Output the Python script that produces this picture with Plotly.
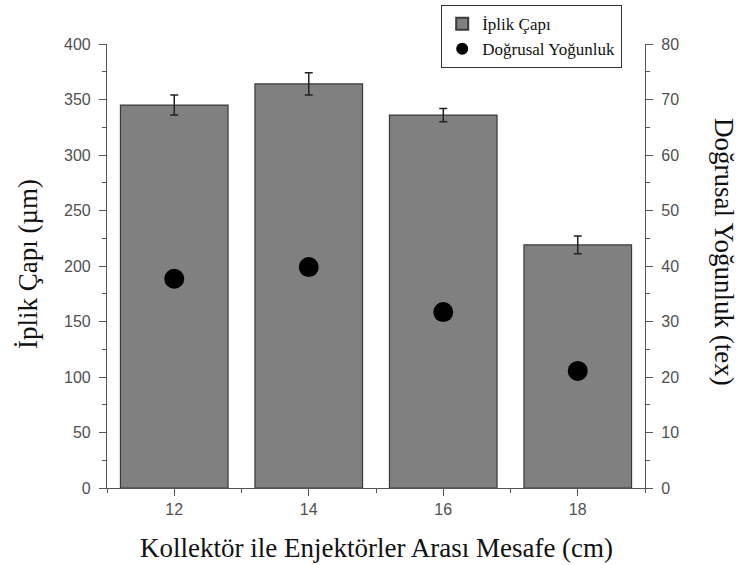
import plotly.graph_objects as go

distances = [12, 14, 16, 18]
diameter = [345, 364, 336, 219]
diameter_err = [9, 10, 6, 8]
linear_density = [37.7, 39.8, 31.7, 21.1]
tick_labels = ["12", "14", "16", "18"]

serif = "Liberation Serif, Times New Roman, serif"
sans = "Liberation Sans, Arial, sans-serif"

fig = go.Figure()
fig.add_trace(go.Bar(
    x=distances, y=diameter, width=1.6, name="İplik Çapı",
    marker=dict(color="#808080", line=dict(color="#3a3a3a", width=1.2)),
    error_y=dict(type="data", array=diameter_err, color="#222", thickness=1.5, width=4),
))
fig.add_trace(go.Scatter(
    x=distances, y=linear_density, mode="markers", name="Doğrusal Yoğunluk",
    marker=dict(color="black", size=20), yaxis="y2",
))

axis_common = dict(showline=True, linecolor="#555", linewidth=1.2, ticks="outside",
                   ticklen=7, tickcolor="#555", showgrid=False, zeroline=False,
                   automargin=False,
                   tickfont=dict(family=sans, size=16, color="#505050"))

title_font = dict(family=serif, size=27, color="#111")

fig.update_layout(
    width=739, height=565,
    margin=dict(l=107, r=94, t=44, b=77, autoexpand=False),
    plot_bgcolor="white", paper_bgcolor="white",
    showlegend=True,
    legend=dict(xref="container", yref="container", x=622 / 739, y=1 - 5 / 565,
                xanchor="right", yanchor="top",
                bordercolor="#333", borderwidth=1.2, bgcolor="white",
                font=dict(family=serif, size=17, color="#111"),
                itemsizing="constant"),
    xaxis=dict(**axis_common, range=[11, 19], tickvals=distances, ticktext=tick_labels,
               minor=dict(dtick=1, tick0=11, ticks="outside", ticklen=4, tickcolor="#555")),
    yaxis=dict(**axis_common, range=[0, 400], dtick=50, ticklabelstandoff=5,
               minor=dict(dtick=25, ticks="outside", ticklen=4, tickcolor="#555")),
    yaxis2=dict(**axis_common, range=[0, 80], dtick=10, overlaying="y", side="right",
                ticklabelstandoff=5,
                minor=dict(dtick=5, ticks="outside", ticklen=4, tickcolor="#555")),
    annotations=[
        dict(text="Kollektör ile Enjektörler Arası Mesafe (cm)", xref="paper", yref="paper",
             x=0.5, y=-(548 - 488) / 444, showarrow=False, xanchor="center", yanchor="middle",
             font=title_font),
        dict(text="İplik Çapı (µm)", textangle=-90, xref="paper", yref="paper",
             x=(28 - 107) / 538, y=(488 - 264) / 444, showarrow=False,
             xanchor="center", yanchor="middle", font=title_font),
        dict(text="Doğrusal Yoğunluk (tex)", textangle=90, xref="paper", yref="paper",
             x=(724 - 107) / 538, y=(488 - 252) / 444, showarrow=False,
             xanchor="center", yanchor="middle", font=title_font),
    ],
)

fig.write_html("out.html", config={"displayModeBar": False},
               post_script="document.body.style.margin='0px';document.body.style.overflow='hidden';")
